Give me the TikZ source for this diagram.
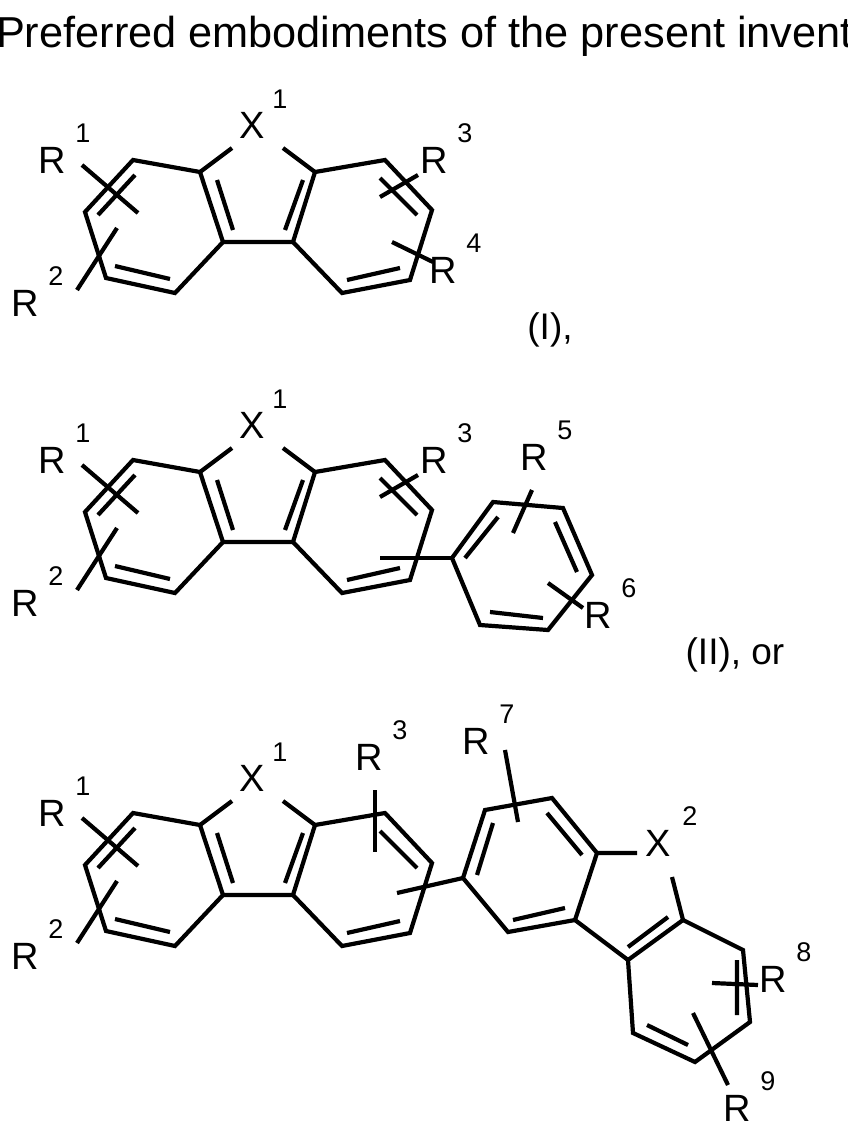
\documentclass[tikz,border=0pt]{standalone}
\usepackage{fontspec}
\setmainfont{Liberation Sans}
\begin{document}
\begin{tikzpicture}[x=1pt,y=-1pt,line width=4.2pt,line cap=butt,line join=miter,
  rl/.style={font=\fontsize{38}{40}\selectfont,inner sep=0pt},
  sl/.style={font=\fontsize{27}{30}\selectfont,inner sep=0pt},
  tl/.style={font=\fontsize{37}{40}\selectfont,inner sep=0pt}]
\useasboundingbox (0,0) rectangle (848,1133);
\newcommand\lab[3]{\node[rl] (#3) at (#1) {R};\node[sl,xshift=31pt,yshift=27pt] at (#1) {#2};}
\newcommand\core{%
 \draw (133,160)--(200,172)--(223,242)--(175,293)--(106,278)--(85,212)--cycle;
 \draw (135,175)--(98,215) (115,266)--(170,279);
 \draw (200,172)--(232,148) (283,148)--(315,172)--(293,242)--(223,242);
 \draw (217,180)--(233,230) (303,180)--(285,230);
 \draw (315,172)--(385,160)--(432,210)--(410,280)--(342,293)--(293,242);
 \draw (380,178)--(417,215) (347,280)--(400,268);
 \draw (82,165)--(138,213) (117,228)--(77,290);
 \lab{52,160}{1}{r1} \lab{25,303}{2}{r2}
 \node[rl] (x1) at (252,125) {X}; \node[sl] at (280,99) {1};
}
\node[font=\fontsize{43.3}{46}\selectfont,anchor=base west,inner sep=0pt] (title) at (-6,47) {Preferred embodiments of the present invention};
% I
\core
\draw (380,197)--(418,175) (392,242)--(433,262);
\lab{434,160}{3}{r3a} \lab{443,270}{4}{r4a}
\node[tl] (l1) at (550,330) {(I),};
% II
\begin{scope}[yshift=-300pt]
\core
\draw (380,197)--(418,175);
\lab{434,160}{3}{r3b}
\end{scope}
\draw (380,558)--(452,558);
\draw (452,558)--(493,502)--(563,508)--(592,575)--(548,630)--(480,625)--cycle;
\draw (465,558)--(498,517) (555,522)--(577,572) (490,612)--(543,618);
\draw (532,490)--(513,533) (548,583)--(583,608);
\lab{534,457}{5}{r5} \lab{598,615}{6}{r6}
\node[tl] (l2) at (735,655) {(II), or};
% III
\begin{scope}[yshift=-653pt]
\core
\end{scope}
\draw (375,790)--(375,852);
\lab{369,757}{3}{r3c}
\draw (397,893)--(463,878);
\draw (463,878)--(485,810)--(552,798)--(597,853)--(575,920)--(508,932)--cycle;
\draw (493,823)--(477,875) (547,813)--(582,855) (513,920)--(565,908);
\draw (597,853)--(637,853) (672,877)--(683,920)--(628,960)--(575,920);
\draw (668,917)--(628,947);
\draw (683,920)--(743,950)--(750,1022)--(695,1062)--(633,1033)--(628,960);
\draw (737,960)--(737,1015) (647,1025)--(688,1045);
\draw (505,750)--(518,822) (712,983)--(758,985) (693,1013)--(728,1085);
\lab{476,741}{7}{r7} \lab{773,979}{8}{r8} \lab{737,1108}{9}{r9}
\node[rl] (x2) at (658,843) {X}; \node[sl] at (690,816) {2};
\end{tikzpicture}
\end{document}
